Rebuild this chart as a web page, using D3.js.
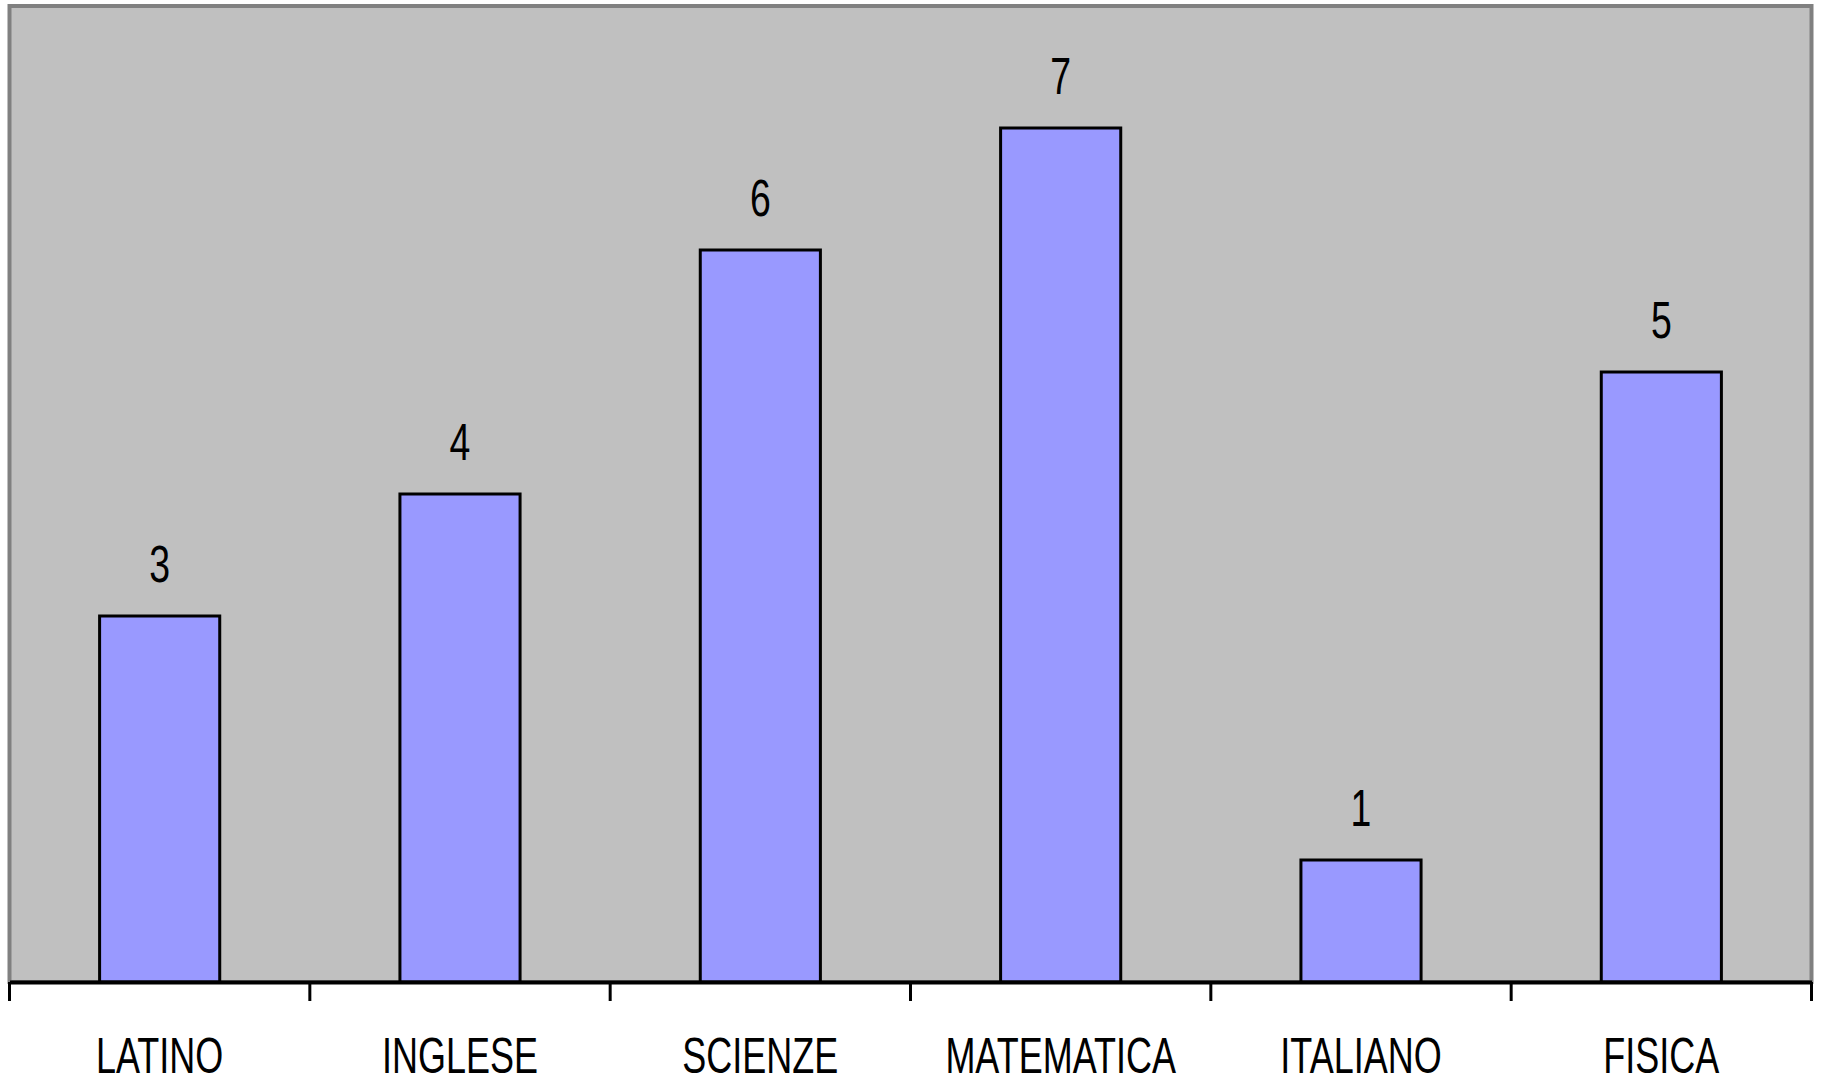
<!DOCTYPE html>
<html>
<head>
<meta charset="utf-8">
<script src="https://cdn.jsdelivr.net/npm/d3@7"></script>
<style>
  html, body { margin: 0; padding: 0; background: #ffffff; }
  svg { display: block; }
</style>
</head>
<body>
<svg id="chart" width="1821" height="1084"></svg>
<script>
const categories = ["LATINO", "INGLESE", "SCIENZE", "MATEMATICA", "ITALIANO", "FISICA"];
const values = [3, 4, 6, 7, 1, 5];
const yDomain = [0, 8];

const W = 1821, H = 1084;
const plot = { left: 9.5, right: 1811.5, top: 6, bottom: 982 };
const svg = d3.select("#chart");

const x = d3.scaleBand().domain(categories).range([plot.left, plot.right]).padding(0);
const y = d3.scaleLinear().domain(yDomain).range([plot.bottom, plot.top]);

// plot area background with gray frame
svg.append("rect")
  .attr("x", plot.left).attr("y", plot.top)
  .attr("width", plot.right - plot.left).attr("height", plot.bottom - plot.top)
  .attr("fill", "#c0c0c0")
  .attr("stroke", "#808080").attr("stroke-width", 4);

const barW = x.bandwidth() * 0.4;

svg.append("g").selectAll("rect")
  .data(categories)
  .join("rect")
  .attr("x", (d) => x(d) + (x.bandwidth() - barW) / 2)
  .attr("y", (d, i) => y(values[i]))
  .attr("width", barW)
  .attr("height", (d, i) => y(0) - y(values[i]))
  .attr("fill", "#9999ff")
  .attr("stroke", "#000000")
  .attr("stroke-width", 3);

// value labels
svg.append("g").selectAll("text")
  .data(categories)
  .join("text")
  .attr("transform", (d, i) => `translate(${x(d) + x.bandwidth() / 2},${y(values[i]) - 34}) scale(0.72,1)`)
  .attr("text-anchor", "middle")
  .attr("font-family", "'Liberation Sans', Arial, sans-serif")
  .attr("font-size", 52)
  .attr("fill", "#000")
  .text((d, i) => values[i]);

// x axis
const xAxis = d3.axisBottom(x).tickSize(0).tickFormat("");
const gx = svg.append("g").attr("transform", `translate(0,${plot.bottom})`).call(xAxis);
gx.select(".domain").attr("stroke", "#000").attr("stroke-width", 4);

// tick marks at category boundaries
const bounds = categories.map((d) => x(d)).concat([plot.right]);
svg.append("g").selectAll("line")
  .data(bounds)
  .join("line")
  .attr("x1", (d) => d).attr("x2", (d) => d)
  .attr("y1", plot.bottom).attr("y2", plot.bottom + 19)
  .attr("stroke", "#000").attr("stroke-width", 3);

// category labels
svg.append("g").selectAll("text")
  .data(categories)
  .join("text")
  .attr("transform", (d) => `translate(${x(d) + x.bandwidth() / 2},1073) scale(0.72,1)`)
  .attr("text-anchor", "middle")
  .attr("font-family", "'Liberation Sans', Arial, sans-serif")
  .attr("font-size", 50)
  .attr("fill", "#000")
  .text((d) => d);
</script>
</body>
</html>
